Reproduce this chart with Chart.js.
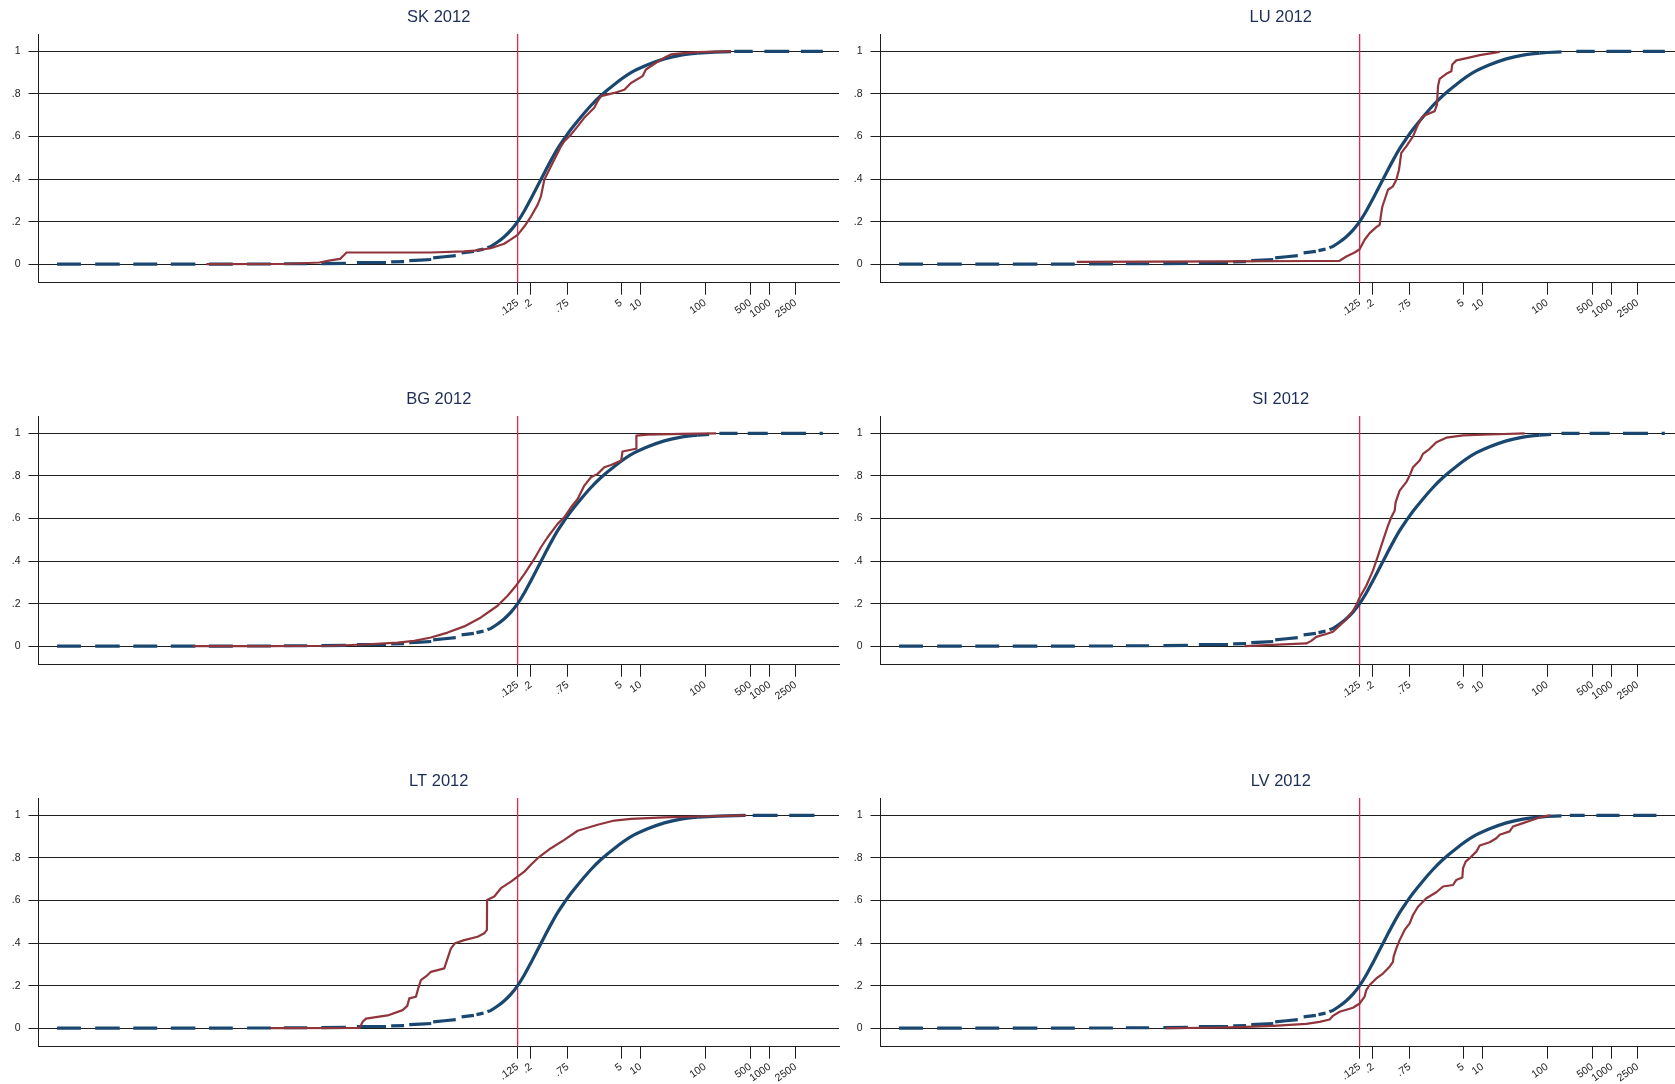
<!DOCTYPE html>
<html><head><meta charset="utf-8">
<script src="https://cdn.jsdelivr.net/npm/chart.js@4.4.1/dist/chart.umd.min.js"></script>
<style>
html,body{margin:0;padding:0;background:#fff;overflow:hidden;width:1675px;height:1084px;}
.panel{position:absolute;width:842px;height:382px;}
canvas{display:block;}
</style></head><body>
<div class="panel" style="left:0;top:0"><canvas id="c0" width="842" height="382"></canvas></div>
<div class="panel" style="left:842px;top:0"><canvas id="c1" width="842" height="382"></canvas></div>
<div class="panel" style="left:0;top:382px"><canvas id="c2" width="842" height="382"></canvas></div>
<div class="panel" style="left:842px;top:382px"><canvas id="c3" width="842" height="382"></canvas></div>
<div class="panel" style="left:0;top:764px"><canvas id="c4" width="842" height="382"></canvas></div>
<div class="panel" style="left:842px;top:764px"><canvas id="c5" width="842" height="382"></canvas></div>
<script>
// ---- labels / ticks ----
const panelTitles = ["SK 2012", "LU 2012", "BG 2012", "SI 2012", "LT 2012", "LV 2012"];
const xTickValues = [0.125, 0.2, 0.75, 5, 10, 100, 500, 1000, 2500];
const xTickLabels = [".125", ".2", ".75", "5", "10", "100", "500", "1000", "2500"];
const yTickValues = [0, 0.2, 0.4, 0.6, 0.8, 1];
const yTickLabels = ["0", ".2", ".4", ".6", ".8", "1"];
const thresholdValue = 0.125;

// ---- data: [log10(x), cumulative share]; null share = gap between marker clusters ----
const bluePooled = [
 [-8.03,0],[-7.66,0],[-7.55,null],
 [-7.44,0],[-7.06,0],[-6.95,null],
 [-6.85,0],[-6.48,0],[-6.37,null],
 [-6.27,0],[-5.89,0],[-5.78,null],
 [-5.68,0],[-5.31,0],[-5.2,null],
 [-5.09,0.001],[-4.72,0.001],[-4.6,null],
 [-4.52,0.002],[-4.16,0.002],[-4.05,null],
 [-3.94,0.003],[-3.56,0.004],[-3.47,null],
 [-3.39,0.007],[-2.94,0.008],[-2.9,null],
 [-2.86,0.011],[-2.66,0.012],[-2.62,null],
 [-2.58,0.017],[-2.24,0.022],[-2.23,null],
 [-2.21,0.03],[-1.86,0.04],[-1.81,null],
 [-1.77,0.053],[-1.58,0.06],[-1.56,null],
 [-1.54,0.064],[-1.43,0.071],[-1.40,null],
 [-1.37,0.077],[-1.316,0.084],[-1.213,0.104],[-1.109,0.129],[-1.006,0.16],[-0.903,0.2],
 [-0.80,0.25],[-0.697,0.308],[-0.593,0.369],[-0.49,0.429],[-0.387,0.488],[-0.284,0.543],
 [-0.181,0.59],[-0.077,0.634],[0.077,0.692],[0.232,0.746],[0.387,0.793],[0.593,0.845],
 [0.851,0.9],[1.109,0.937],[1.367,0.965],[1.625,0.983],[1.883,0.992]
];
const blueTailSK = [[1.883,0.992],[2.14,0.997],[2.40,0.999],[2.42,null],[2.45,1],[2.735,1],[2.82,null],[2.915,1],[3.30,1],[3.39,null],[3.48,1],[3.82,1]];
const blueTailLU = [[1.883,0.992],[2.0,0.995],[2.22,0.998],[2.33,null],[2.45,1],[2.735,1],[2.82,null],[2.915,1],[3.30,1],[3.39,null],[3.48,1],[3.82,1]];
const blueTailBG = [[1.883,0.992],[2.06,0.996],[2.14,null],[2.22,1],[2.50,1],[2.58,null],[2.657,1],[2.967,1],[3.07,null],[3.173,1],[3.56,1],[3.66,null],[3.77,1],[3.82,1]];
const blueTailSI = [[1.883,0.992],[2.06,0.996],[2.14,null],[2.22,1],[2.50,1],[2.58,null],[2.657,1],[2.967,1],[3.07,null],[3.173,1],[3.56,1],[3.66,null],[3.77,1],[3.82,1]];
const blueTailLT = [[1.883,0.992],[2.2,0.997],[2.62,1],[2.68,null],[2.735,1],[3.12,1],[3.21,null],[3.30,1],[3.69,1]];
const blueTailLV = [[1.883,0.992],[2.0,0.996],[2.22,0.998],[2.28,null],[2.35,1],[2.58,1],[2.67,null],[2.76,1],[3.12,1],[3.22,null],[3.33,1],[3.69,1]];

const redSK = [[-5.72,0],[-4.5,0.001],[-3.97,0.008],[-3.80,0.018],[-3.65,0.025],[-3.60,0.04],[-3.55,0.055],[-2.25,0.055],[-1.73,0.06],[-1.57,0.064],[-1.32,0.075],[-1.11,0.096],[-1.0,0.118],[-0.903,0.138],[-0.8,0.177],[-0.697,0.224],[-0.594,0.279],[-0.542,0.319],[-0.49,0.397],[-0.387,0.46],[-0.284,0.523],[-0.232,0.554],[-0.181,0.578],[-0.078,0.609],[0.025,0.648],[0.128,0.688],[0.283,0.735],[0.335,0.766],[0.387,0.79],[0.593,0.805],[0.748,0.82],[0.851,0.852],[1.031,0.884],[1.083,0.915],[1.238,0.947],[1.367,0.97],[1.47,0.986],[1.625,0.991],[1.883,0.997],[2.399,1]];
const redLU = [[-5.28,0.011],[-3.0,0.013],[-1.6,0.015],[-1.213,0.016],[-1.109,0.036],[-0.98,0.055],[-0.903,0.07],[-0.826,0.115],[-0.748,0.146],[-0.645,0.174],[-0.593,0.185],[-0.568,0.24],[-0.552,0.27],[-0.464,0.35],[-0.387,0.366],[-0.335,0.397],[-0.294,0.444],[-0.258,0.523],[-0.181,0.554],[-0.077,0.601],[0,0.656],[0.067,0.692],[0.129,0.703],[0.258,0.719],[0.294,0.75],[0.310,0.837],[0.335,0.871],[0.438,0.895],[0.516,0.907],[0.531,0.939],[0.593,0.958],[0.774,0.97],[0.955,0.983],[1.264,0.998]];
const redBG = [[-5.93,0],[-4.8,0],[-3.793,0.002],[-3.277,0.008],[-2.761,0.017],[-2.503,0.025],[-2.245,0.041],[-1.987,0.064],[-1.729,0.093],[-1.471,0.135],[-1.213,0.19],[-1.058,0.237],[-0.929,0.284],[-0.8,0.339],[-0.645,0.41],[-0.542,0.465],[-0.439,0.512],[-0.284,0.575],[-0.181,0.606],[-0.077,0.653],[0.026,0.692],[0.129,0.755],[0.232,0.794],[0.335,0.81],[0.438,0.841],[0.542,0.852],[0.70,0.873],[0.72,0.915],[0.929,0.928],[0.935,0.99],[1.109,0.994],[1.625,0.998],[2.167,1]];
const redSI = [[-2.683,0],[-1.729,0.013],[-1.651,0.025],[-1.574,0.044],[-1.419,0.057],[-1.316,0.068],[-1.213,0.096],[-1.109,0.127],[-1.006,0.166],[-0.955,0.193],[-0.903,0.229],[-0.8,0.284],[-0.697,0.355],[-0.619,0.425],[-0.542,0.496],[-0.464,0.567],[-0.413,0.606],[-0.361,0.637],[-0.346,0.676],[-0.284,0.731],[-0.181,0.771],[-0.129,0.802],[-0.077,0.841],[0.026,0.873],[0.077,0.904],[0.181,0.928],[0.284,0.959],[0.438,0.98],[0.697,0.991],[1.109,0.995],[1.651,1]];
const redLT = [[-4.73,0],[-3.35,0.001],[-3.30,0.03],[-3.25,0.045],[-2.915,0.06],[-2.683,0.085],[-2.61,0.105],[-2.58,0.14],[-2.477,0.148],[-2.441,0.187],[-2.399,0.226],[-2.296,0.25],[-2.245,0.265],[-2.038,0.281],[-1.987,0.328],[-1.935,0.375],[-1.873,0.399],[-1.729,0.414],[-1.522,0.43],[-1.419,0.446],[-1.378,0.462],[-1.376,0.603],[-1.264,0.619],[-1.161,0.658],[-1.006,0.689],[-0.903,0.713],[-0.8,0.736],[-0.697,0.768],[-0.593,0.799],[-0.387,0.846],[-0.181,0.885],[0.026,0.928],[0.335,0.956],[0.593,0.976],[0.851,0.984],[1.367,0.991],[1.883,0.995],[2.632,1]];
const redLV = [[-3.9,0],[-3.793,0],[-3.277,0.002],[-2.761,0.005],[-2.245,0.011],[-1.729,0.02],[-1.522,0.03],[-1.367,0.041],[-1.316,0.058],[-1.213,0.077],[-1.006,0.096],[-0.903,0.116],[-0.826,0.148],[-0.8,0.179],[-0.748,0.203],[-0.645,0.234],[-0.542,0.257],[-0.439,0.289],[-0.387,0.312],[-0.377,0.336],[-0.335,0.375],[-0.284,0.414],[-0.206,0.462],[-0.129,0.493],[-0.077,0.532],[0,0.571],[0.129,0.611],[0.284,0.639],[0.387,0.666],[0.542,0.673],[0.593,0.697],[0.686,0.708],[0.697,0.752],[0.738,0.783],[0.8,0.799],[0.903,0.83],[0.955,0.859],[1.109,0.874],[1.213,0.893],[1.264,0.909],[1.419,0.925],[1.47,0.948],[1.625,0.964],[1.78,0.98],[1.883,0.991],[1.986,0.997],[2.05,1]];

const redSeries = [redSK, redLU, redBG, redSI, redLT, redLV];
const blueTails = [blueTailSK, blueTailLU, blueTailBG, blueTailSI, blueTailLT, blueTailLV];

const FONT = '"Liberation Sans", Arial, Helvetica, sans-serif';
const RED = '#90353b', BLUE = '#1a476f', AXIS = '#1e1e1e';

const decor = {
  id: 'decor',
  beforeDatasetsDraw(chart) {
    const {ctx, chartArea, scales} = chart;
    const x = scales.x.getPixelForValue(Math.log10(thresholdValue));
    ctx.save();
    ctx.strokeStyle = '#e0284f';
    ctx.lineWidth = 1.3;
    ctx.beginPath();
    ctx.moveTo(x, chartArea.top);
    ctx.lineTo(x, chartArea.bottom);
    ctx.stroke();
    ctx.restore();
  },
  afterDraw(chart) {
    const {ctx, chartArea} = chart;
    ctx.save();
    ctx.fillStyle = '#1e2d55';
    ctx.font = '16.5px ' + FONT;
    ctx.textAlign = 'center';
    ctx.textBaseline = 'middle';
    ctx.fillText(chart.options.plugins.panelTitle, (chartArea.left + chartArea.right) / 2, 17);
    ctx.restore();
  }
};

function lineDs(data, color, width, order, smooth) {
  return {data, borderColor: color, borderWidth: width, pointRadius: 0, pointHoverRadius: 0,
    order, spanGaps: false, borderCapStyle: 'butt', borderJoinStyle: 'round',
    tension: 0, cubicInterpolationMode: smooth ? 'monotone' : 'default', fill: false};
}

for (let i = 0; i < 6; i++) {
  new Chart(document.getElementById('c' + i), {
    type: 'line',
    data: {datasets: [
      lineDs(redSeries[i], RED, 2.2, 0, false),
      lineDs(bluePooled, BLUE, 3.2, 1, true),
      lineDs(blueTails[i], BLUE, 3.2, 1, false)
    ]},
    options: {
      responsive: false, animation: false, devicePixelRatio: 1,
      layout: {padding: {top: 34, right: 3, left: 0, bottom: 0}},
      plugins: {legend: {display: false}, tooltip: {enabled: false}, title: {display: false}, panelTitle: panelTitles[i]},
      scales: {
        x: {
          type: 'linear', min: -8.317, max: 4.07,
          afterBuildTicks(s) { s.ticks = xTickValues.map(v => ({value: Math.log10(v)})); },
          afterFit(s) { s.height = 99.3; },
          ticks: {autoSkip: false, minRotation: 35, maxRotation: 35, padding: 2,
            callback: (v, idx) => xTickLabels[idx], font: {size: 10.5, family: FONT}, color: '#222'},
          grid: {drawOnChartArea: false, drawTicks: true, tickLength: 12, color: AXIS, lineWidth: 1},
          border: {display: true, color: AXIS, width: 1}
        },
        y: {
          type: 'linear', min: -0.087, max: 1.082,
          afterBuildTicks(s) { s.ticks = yTickValues.map(v => ({value: v})); },
          afterFit(s) { s.width = 38.5; },
          ticks: {padding: 8, callback: (v, idx) => yTickLabels[idx], font: {size: 10.5, family: FONT}, color: '#222'},
          grid: {drawOnChartArea: true, drawTicks: true, tickLength: 10, color: AXIS, lineWidth: 1},
          border: {display: true, color: AXIS, width: 1}
        }
      }
    },
    plugins: [decor]
  });
}
</script>
</body></html>
